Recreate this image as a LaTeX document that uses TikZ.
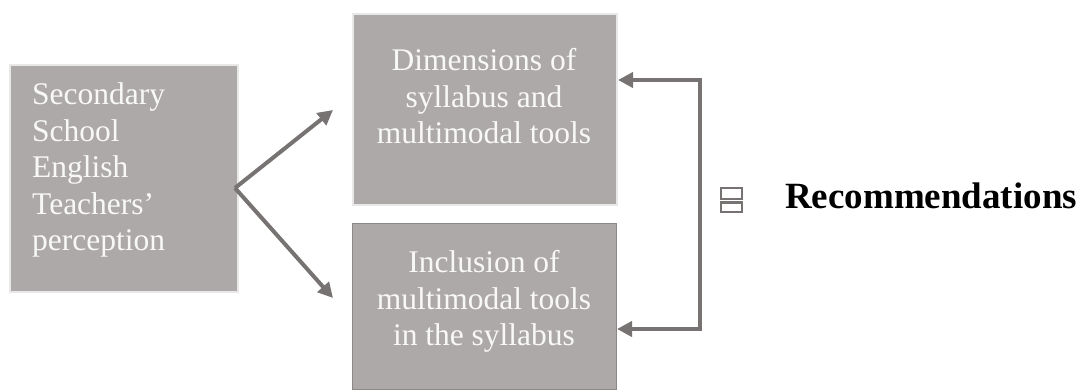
\documentclass[tikz,border=0pt]{standalone}
\usepackage{fontspec}
\setmainfont{Liberation Serif}
\usetikzlibrary{arrows.meta}
\definecolor{boxfill}{RGB}{173,169,168}
\definecolor{boxedge}{RGB}{232,232,232}
\definecolor{boxline}{RGB}{140,136,135}
\definecolor{arrowc}{RGB}{119,115,114}
\definecolor{txt}{RGB}{248,248,248}
\begin{document}
\begin{tikzpicture}[x=1pt,y=-1pt,
  box/.style={fill=boxfill, draw=boxedge, line width=2pt, inner sep=0pt, anchor=north west},
  boxb/.style={fill=boxfill, draw=boxline, line width=1pt, inner sep=0pt, anchor=north west},
  label/.style={text=txt, inner sep=0pt, font=\fontsize{31.5}{36.5}\selectfont},
  conn/.style={draw=arrowc, line width=4pt, -{Triangle[length=15pt,width=15pt]}},
  both/.style={draw=arrowc, line width=4pt, line join=miter, {Triangle[length=15pt,width=15pt]}-{Triangle[length=15pt,width=15pt]}},
  symb/.style={draw=arrowc, line width=2.5pt}
]
\useasboundingbox (0,0) rectangle (1084,391);
% boxes
\node[box, minimum width=228pt, minimum height=227pt] (left) at (9,64) {};
\node[box, minimum width=264pt, minimum height=191pt] (top) at (352,13) {};
\node[boxb, minimum width=264pt, minimum height=166pt] (bot) at (352,223) {};
% texts
\node[label, align=left, anchor=north west] (lefttext) at (32,82.5)
  {Secondary\\School\\English\\Teachers’\\perception};
\node[label, align=center, anchor=north] (toptext) at (484,48.5)
  {Dimensions of\\syllabus and\\multimodal tools};
\node[label, align=center, anchor=north] (bottext) at (484,250.5)
  {Inclusion of\\multimodal tools\\in the syllabus};
\node[anchor=base west, inner sep=0pt, font=\fontsize{37}{40}\selectfont\bfseries] (rec) at (785,208) {Recommendations};
% symbol
\draw[symb] (721,188) rectangle (742,199);
\draw[symb] (721,202.5) rectangle (742,212);
% connectors
\coordinate (j) at (235,188);
\coordinate (t1) at (333,110);
\coordinate (t2) at (333,298);
\draw[conn] (j) -- (t1);
\draw[conn] (j) -- (t2);
\coordinate (rt) at (700,80);
\coordinate (rb) at (700,329);
\draw[both] (top.east |- rt) -- (rt) -- (rb) -- (bot.east |- rb);
\end{tikzpicture}
\end{document}
